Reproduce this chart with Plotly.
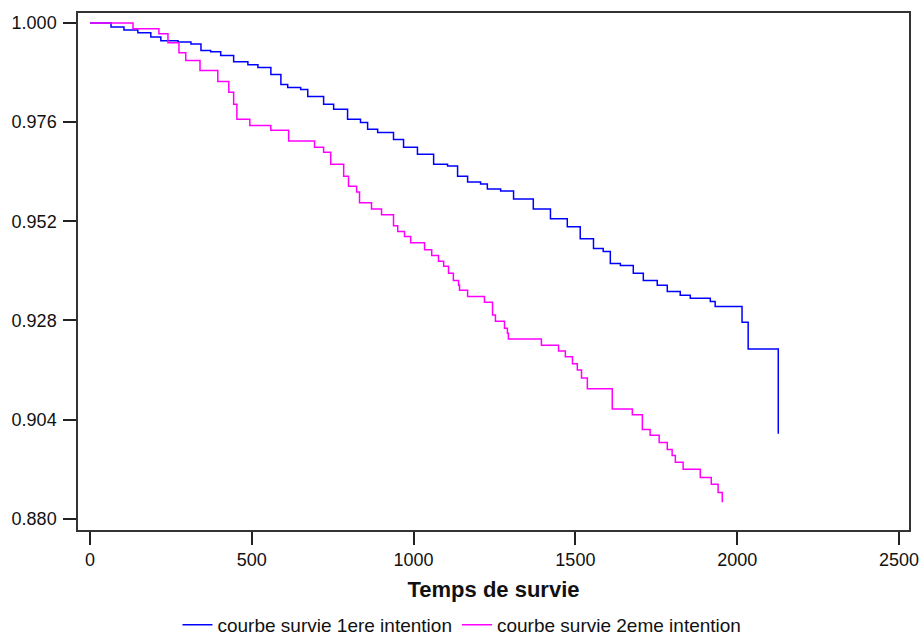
import plotly.graph_objects as go

# Survival curve 1 (1ere intention): time at which survival steps, new survival value
t1 = [0, 65, 105, 148, 188, 219, 272, 312, 343, 373, 404, 444, 488, 519, 559, 590, 611,
      651, 673, 722, 753, 796, 836, 858, 889, 938, 969, 1012, 1062, 1105, 1136, 1167,
      1207, 1228, 1269, 1309, 1370, 1423, 1475, 1515, 1556, 1586, 1608, 1639, 1679,
      1710, 1753, 1784, 1824, 1855, 1917, 1932, 2015, 2034, 2127]
s1 = [1.0000, 0.9990, 0.9983, 0.9976, 0.9966, 0.9957, 0.9954, 0.9949, 0.9933, 0.9930,
      0.9921, 0.9906, 0.9899, 0.9892, 0.9875, 0.9851, 0.9844, 0.9839, 0.9822, 0.9803,
      0.9791, 0.9767, 0.9759, 0.9743, 0.9735, 0.9718, 0.9699, 0.9682, 0.9658, 0.9654,
      0.9629, 0.9615, 0.9610, 0.9598, 0.9593, 0.9574, 0.9550, 0.9526, 0.9507, 0.9478,
      0.9454, 0.9447, 0.9418, 0.9413, 0.9394, 0.9377, 0.9365, 0.9350, 0.9341, 0.9334,
      0.9326, 0.9314, 0.9276, 0.9211, 0.9006]

# Survival curve 2 (2eme intention)
t2 = [0, 133, 213, 241, 275, 296, 340, 395, 429, 444, 454, 494, 559, 614, 694, 722, 744,
      784, 799, 824, 833, 870, 901, 938, 951, 972, 991, 1034, 1056, 1077, 1093, 1108,
      1123, 1139, 1142, 1167, 1219, 1244, 1253, 1281, 1290, 1293, 1395, 1448, 1469,
      1491, 1506, 1519, 1537, 1614, 1676, 1707, 1731, 1759, 1784, 1799, 1809, 1833,
      1886, 1920, 1941, 1954]
s2 = [1.0000, 0.9986, 0.9974, 0.9952, 0.9928, 0.9909, 0.9885, 0.9858, 0.9832, 0.9803,
      0.9767, 0.9752, 0.9740, 0.9714, 0.9699, 0.9687, 0.9658, 0.9629, 0.9605, 0.9591,
      0.9565, 0.9550, 0.9536, 0.9509, 0.9495, 0.9483, 0.9468, 0.9451, 0.9437, 0.9423,
      0.9411, 0.9394, 0.9377, 0.9365, 0.9353, 0.9338, 0.9324, 0.9293, 0.9278, 0.9261,
      0.9249, 0.9235, 0.9220, 0.9206, 0.9192, 0.9175, 0.9160, 0.9141, 0.9115, 0.9066,
      0.9052, 0.9016, 0.9002, 0.8985, 0.8968, 0.8953, 0.8937, 0.8920, 0.8900, 0.8884,
      0.8864, 0.8840]

names = ["courbe survie 1ere intention", "courbe survie 2eme intention"]
colors = ["#0000FF", "#FF00FF"]

x_ticks = [0, 500, 1000, 1500, 2000, 2500]
y_ticks = [0.880, 0.904, 0.928, 0.952, 0.976, 1.000]

FONT = "Liberation Sans, Arial, sans-serif"

fig = go.Figure()
for t, s, n, c in zip([t1, t2], [s1, s2], names, colors):
    fig.add_trace(go.Scatter(x=t, y=s, mode="lines", name=n,
                             line=dict(color=c, width=1.5, shape="hv")))

fig.update_layout(
    width=919, height=644,
    margin=dict(l=78, r=10, t=13, b=114),
    paper_bgcolor="white", plot_bgcolor="white",
    font=dict(family=FONT, color="#111111"),
    showlegend=True,
    legend=dict(orientation="h", xref="container", yref="container",
                x=0.5027, xanchor="center", y=-0.011, yanchor="bottom",
                font=dict(size=19, family=FONT, color="#111111"),
                itemwidth=30, bgcolor="rgba(0,0,0,0)", borderwidth=0),
)
fig.update_xaxes(
    range=[-37, 2531], tickvals=x_ticks, ticktext=[str(v) for v in x_ticks],
    showgrid=False, zeroline=False, showline=True, linecolor="#333333", linewidth=1.5,
    mirror=True, ticks="outside", ticklen=13, tickwidth=1.5, tickcolor="#222222",
    tickfont=dict(size=18, family=FONT, color="#111111"), automargin=False,
    title=dict(text="<b>Temps de survie</b>", font=dict(size=22, family=FONT, color="#111111"),
               standoff=12),
)
fig.update_yaxes(
    range=[0.8773, 1.0024], tickvals=y_ticks, ticktext=[f"{v:.3f}" for v in y_ticks],
    showgrid=False, zeroline=False, showline=True, linecolor="#333333", linewidth=1.5,
    mirror=True, ticks="outside", ticklen=13, tickwidth=1.5, tickcolor="#222222",
    tickfont=dict(size=18, family=FONT, color="#111111"), automargin=False,
    ticklabelstandoff=3,
)

fig.write_html("out.html", config={"displayModeBar": False},
               post_script="document.body.style.margin='0';document.body.style.overflow='hidden';")
